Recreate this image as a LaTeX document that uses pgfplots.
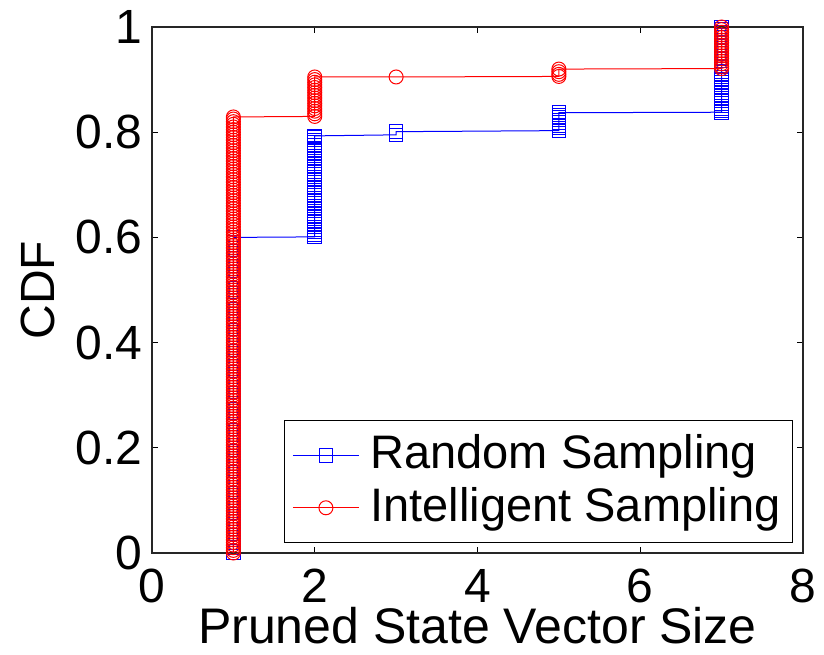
\documentclass[border=0pt]{standalone}
\usepackage{pgfplots}
\pgfplotsset{compat=1.18}
\usepackage{fontspec}
\setmainfont{Liberation Sans}
\begin{document}
\fontsize{24}{28}\selectfont
\begin{tikzpicture}
\begin{axis}[
    scale only axis,
    width=325.5pt, height=263pt,
    xmin=0, xmax=8, ymin=0, ymax=1,
    xtick={0,2,4,6,8},
    ytick={0,0.2,0.4,0.6,0.8,1},
    tick align=inside,
    xtick pos=both, ytick pos=both,
    major tick length=3pt,
    axis line style={line width=0.9pt, black!85},
    tick style={line width=0.5pt, black},
    xlabel={Pruned State Vector Size},
    ylabel={CDF},
    xlabel style={at={(axis description cs:0.5,0)}, anchor=base, yshift=-45pt,
                  inner ysep=0pt, font=\fontsize{25}{28}\selectfont},
    ylabel style={at={(axis description cs:-0.149,0.5)}, anchor=base,
                  font=\fontsize{24}{28}\selectfont},
    yticklabel style={xshift=3.5pt},
    xticklabel style={inner ysep=1pt, yshift=-7pt},
    /pgf/number format/assume math mode=true,
    ticklabel style={font=\fontsize{24}{28}\selectfont},
    clip=false,
    legend cell align=left,
    legend style={
        at={(0.985,0.019)}, anchor=south east,
        draw=black, line width=0.6pt,
        font=\fontsize{23.5}{28}\selectfont,
        row sep=1.5pt, inner xsep=4pt, inner ysep=5pt,
        /tikz/every odd column/.append style={column sep=3.5pt}
    },
    legend image code/.code={
        \draw[#1, mark repeat=2, mark phase=2] plot coordinates {(0pt,0pt) (16.5pt,0pt) (33pt,0pt)};
    },
]

% Random Sampling
\addplot[color=blue, line width=0.5pt, mark=square, mark size=3.4pt,
         mark options={solid, line width=0.5pt}] coordinates {
(1,0.00) (1,0.01) (1,0.02) (1,0.03) (1,0.04) (1,0.05) (1,0.06) (1,0.07) (1,0.08) (1,0.09)
(1,0.10) (1,0.11) (1,0.12) (1,0.13) (1,0.14) (1,0.15) (1,0.16) (1,0.17) (1,0.18) (1,0.19)
(1,0.20) (1,0.21) (1,0.22) (1,0.23) (1,0.24) (1,0.25) (1,0.26) (1,0.27) (1,0.28) (1,0.29)
(1,0.30) (1,0.31) (1,0.32) (1,0.33) (1,0.34) (1,0.35) (1,0.36) (1,0.37) (1,0.38) (1,0.39)
(1,0.40) (1,0.41) (1,0.42) (1,0.43) (1,0.44) (1,0.45) (1,0.46) (1,0.47) (1,0.48) (1,0.49)
(1,0.50) (1,0.51) (1,0.52) (1,0.53) (1,0.54) (1,0.55) (1,0.56) (1,0.57) (1,0.58) (1,0.59)
(1,0.600)
(2,0.601) (2,0.605) (2,0.610) (2,0.615) (2,0.620) (2,0.625) (2,0.630) (2,0.635) (2,0.640) (2,0.645)
(2,0.650) (2,0.655) (2,0.660) (2,0.665) (2,0.670) (2,0.675) (2,0.680) (2,0.685) (2,0.690) (2,0.695)
(2,0.700) (2,0.705) (2,0.710) (2,0.715) (2,0.720) (2,0.725) (2,0.730) (2,0.735) (2,0.740) (2,0.745)
(2,0.750) (2,0.755) (2,0.760) (2,0.765) (2,0.770) (2,0.775) (2,0.780) (2,0.785) (2,0.790) (2,0.793)
(3,0.795) (3,0.801)
(5,0.803) (5,0.808) (5,0.813) (5,0.818) (5,0.823) (5,0.828) (5,0.833) (5,0.837)
(7,0.838) (7,0.840) (7,0.845) (7,0.850) (7,0.855) (7,0.860) (7,0.865) (7,0.870) (7,0.875) (7,0.880)
(7,0.885) (7,0.890) (7,0.895) (7,0.900) (7,0.905) (7,0.910) (7,0.915) (7,0.920) (7,0.925) (7,0.930)
(7,0.935) (7,0.940) (7,0.945) (7,0.950) (7,0.955) (7,0.960) (7,0.965) (7,0.970) (7,0.975) (7,0.980)
(7,0.985) (7,0.990) (7,0.995) (7,1.000)
};
\addlegendentry{Random Sampling}

% Intelligent Sampling
\addplot[color=red, line width=0.5pt, mark=o, mark size=3.5pt,
         mark options={solid, line width=0.5pt}] coordinates {
(1,0.000) (1,0.005) (1,0.010) (1,0.015) (1,0.020) (1,0.025) (1,0.030) (1,0.035) (1,0.040) (1,0.045)
(1,0.050) (1,0.055) (1,0.060) (1,0.065) (1,0.070) (1,0.075) (1,0.080) (1,0.085) (1,0.090) (1,0.095)
(1,0.100) (1,0.105) (1,0.110) (1,0.115) (1,0.120) (1,0.125) (1,0.130) (1,0.135) (1,0.140) (1,0.145)
(1,0.150) (1,0.155) (1,0.160) (1,0.165) (1,0.170) (1,0.175) (1,0.180) (1,0.185) (1,0.190) (1,0.195)
(1,0.200) (1,0.205) (1,0.210) (1,0.215) (1,0.220) (1,0.225) (1,0.230) (1,0.235) (1,0.240) (1,0.245)
(1,0.250) (1,0.255) (1,0.260) (1,0.265) (1,0.270) (1,0.275) (1,0.280) (1,0.285) (1,0.290) (1,0.295)
(1,0.300) (1,0.305) (1,0.310) (1,0.315) (1,0.320) (1,0.325) (1,0.330) (1,0.335) (1,0.340) (1,0.345)
(1,0.350) (1,0.355) (1,0.360) (1,0.365) (1,0.370) (1,0.375) (1,0.380) (1,0.385) (1,0.390) (1,0.395)
(1,0.400) (1,0.405) (1,0.410) (1,0.415) (1,0.420) (1,0.425) (1,0.430) (1,0.435) (1,0.440) (1,0.445)
(1,0.450) (1,0.455) (1,0.460) (1,0.465) (1,0.470) (1,0.475) (1,0.480) (1,0.485) (1,0.490) (1,0.495)
(1,0.500) (1,0.505) (1,0.510) (1,0.515) (1,0.520) (1,0.525) (1,0.530) (1,0.535) (1,0.540) (1,0.545)
(1,0.550) (1,0.555) (1,0.560) (1,0.565) (1,0.570) (1,0.575) (1,0.580) (1,0.585) (1,0.590) (1,0.595)
(1,0.600) (1,0.605) (1,0.610) (1,0.615) (1,0.620) (1,0.625) (1,0.630) (1,0.635) (1,0.640) (1,0.645)
(1,0.650) (1,0.655) (1,0.660) (1,0.665) (1,0.670) (1,0.675) (1,0.680) (1,0.685) (1,0.690) (1,0.695)
(1,0.700) (1,0.705) (1,0.710) (1,0.715) (1,0.720) (1,0.725) (1,0.730) (1,0.735) (1,0.740) (1,0.745)
(1,0.750) (1,0.755) (1,0.760) (1,0.765) (1,0.770) (1,0.775) (1,0.780) (1,0.785) (1,0.790) (1,0.795)
(1,0.800) (1,0.805) (1,0.810) (1,0.815) (1,0.820) (1,0.825) (1,0.829)
(2,0.830) (2,0.835) (2,0.840) (2,0.845) (2,0.850) (2,0.855) (2,0.860) (2,0.865) (2,0.870) (2,0.875)
(2,0.880) (2,0.885) (2,0.890) (2,0.895) (2,0.900) (2,0.905)
(3,0.905)
(5,0.906) (5,0.910) (5,0.915) (5,0.920)
(7,0.921) (7,0.925) (7,0.930) (7,0.935) (7,0.940) (7,0.945) (7,0.950) (7,0.955) (7,0.960) (7,0.965)
(7,0.970) (7,0.975) (7,0.980) (7,0.985) (7,0.990) (7,0.995) (7,1.000)
};
\addlegendentry{Intelligent Sampling}

\end{axis}
\pgfresetboundingbox
\path (-76pt,-50.5pt) rectangle (336pt,276.5pt);
\end{tikzpicture}
\end{document}
